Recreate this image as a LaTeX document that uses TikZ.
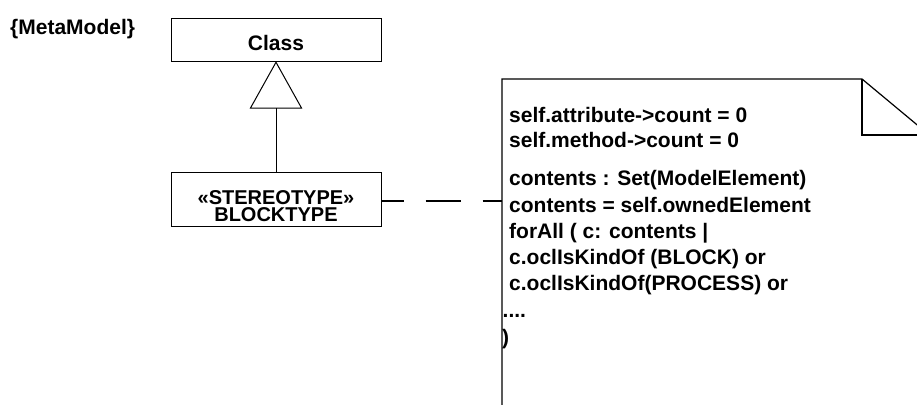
\documentclass[tikz,border=0pt]{standalone}
\usepackage{fontspec}
\setmainfont{Liberation Sans}
\begin{document}
\begin{tikzpicture}[x=1pt,y=-1pt,
  every node/.style={font=\bfseries\fontsize{21}{24}\selectfont, inner sep=0pt},
  classbox/.style={draw, line width=1pt, rectangle, minimum width=210pt},
  txt/.style={anchor=base west},
  ctxt/.style={anchor=base},
  stereo/.style={align=center, font=\bfseries\fontsize{20}{17}\selectfont},
  edge/.style={line width=1pt},
  dep/.style={line width=1.8pt, dash pattern=on 22pt off 22pt on 35pt off 22pt},
  noteline/.style={line width=1.2pt}]
\useasboundingbox (0,0) rectangle (917,404);
\clip (0,0) rectangle (917,404);

% package label
\node[txt] (pkg) at (10,35) {\{MetaModel\}};

% metaclass
\node[classbox, minimum height=43.5pt] (class) at (276,40) {};
\node[ctxt] (classname) at (276,50) {Class};

% stereotype class
\node[classbox, minimum height=54.5pt] (block) at (276,199.5) {};
\node[stereo] (stname) at (276,206.3) {«STEREOTYPE»\\BLOCKTYPE};

% generalization with hollow triangle
\coordinate (trib) at (276,108);
\draw[edge] (class.south) -- ([xshift=-25.5pt]trib) -- ([xshift=25.5pt]trib) -- cycle;
\draw[edge] (block.north) -- (trib);

% note outline with folded corner
\coordinate (ntl) at (502,79);
\coordinate (nfold) at (862,79);
\draw[noteline] (502,410) -- (ntl) -- (nfold) -- (930,135.6);
\draw[noteline] (nfold) -- (862,135) -- (930,135);

% dependency from stereotype to note
\coordinate (njoin) at (502,201);
\draw[dep] (block.east |- njoin) -- (njoin);

% constraint text
\node[txt] (c1) at (509,122) {self.attribute->count = 0};
\node[txt] (c2) at (509,147) {self.method->count = 0};
\node[txt] (c3) at (509,185) {contents : Set(ModelElement)};
\node[txt] (c4) at (509,212) {contents = self.ownedElement};
\node[txt] (c5) at (509,238) {forAll ( c: contents |};
\node[txt] (c6) at (509,264) {c.oclIsKindOf (BLOCK) or};
\node[txt] (c7) at (509,290) {c.oclIsKindOf(PROCESS) or};
\node[txt] (c8) at (502.5,317) {....};
\node[txt] (c9) at (502,344) {)};
\end{tikzpicture}
\end{document}
